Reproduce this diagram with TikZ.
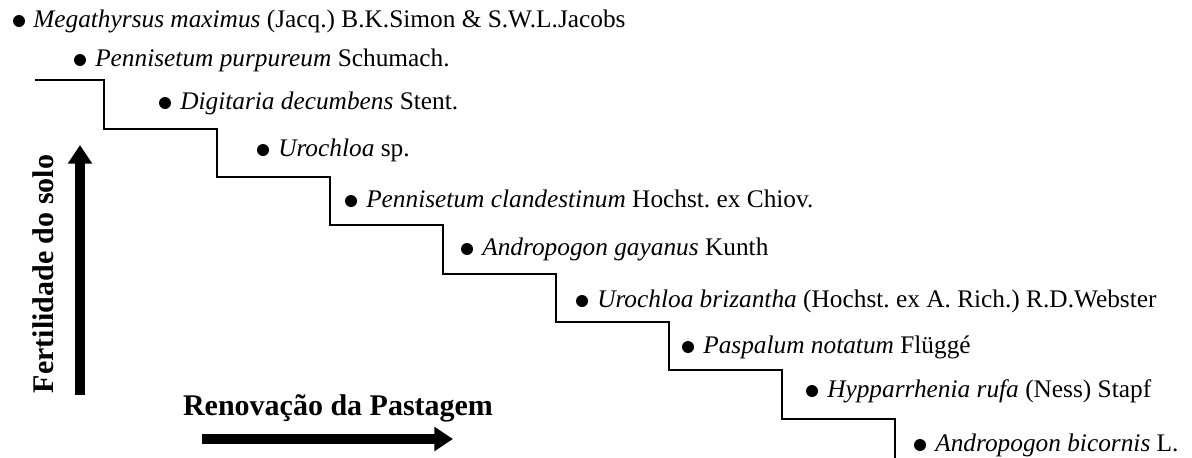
\documentclass[tikz,border=0pt]{standalone}
\usepackage{fontspec}
\setmainfont{Liberation Serif}
\usetikzlibrary{arrows.meta}
\frenchspacing
\begin{document}
\begin{tikzpicture}[x=0.75pt,y=-0.75pt,
  item/.style={anchor=base west,inner sep=0pt,font=\fontsize{19pt}{22pt}\selectfont},
  dot/.style={circle,fill=black,minimum size=9pt,inner sep=0pt},
  axislabel/.style={inner sep=0pt,font=\fontsize{22.5pt}{26pt}\selectfont\bfseries},
  bigarrow/.style={line width=8pt,-{Triangle[length=14pt,width=17.5pt]}},
  stairs/.style={line width=1.2pt,line join=miter}]
\useasboundingbox (0,0) rectangle (1192,457);
% staircase
\draw[stairs] (35,80) -- (104,80) -- (104,129) -- (217,129) -- (217,177) -- (330,177)
  -- (330,225) -- (443,225) -- (443,274) -- (556,274) -- (556,322) -- (669,322)
  -- (669,370) -- (782,370) -- (782,419) -- (895,419) -- (895,460);
% bullets
\node[dot] (b1) at (19,21) {};
\node[dot] (b2) at (80,60) {};
\node[dot] (b3) at (165,103) {};
\node[dot] (b4) at (263,150) {};
\node[dot] (b5) at (351,201) {};
\node[dot] (b6) at (467,249) {};
\node[dot] (b7) at (582,301) {};
\node[dot] (b8) at (688,347) {};
\node[dot] (b9) at (812,391) {};
\node[dot] (b10) at (920,445) {};
% labels
\node[item] (t1) at (33,27.5) {\textit{Megathyrsus maximus} (Jacq.) B.K.Simon \& S.W.L.Jacobs};
\node[item] (t2) at (95,66.5) {\textit{Pennisetum purpureum} Schumach.};
\node[item] (t3) at (180,109.5) {\textit{Digitaria decumbens} Stent.};
\node[item] (t4) at (278,156.5) {\textit{Urochloa} sp.};
\node[item] (t5) at (366,207.5) {\textit{Pennisetum clandestinum} Hochst. ex Chiov.};
\node[item] (t6) at (482,255.5) {\textit{Andropogon gayanus} Kunth};
\node[item] (t7) at (597,307.5) {\textit{Urochloa brizantha} (Hochst. ex A. Rich.) R.D.Webster};
\node[item] (t8) at (703,353.5) {\textit{Paspalum notatum} Flüggé};
\node[item] (t9) at (827,397.5) {\textit{Hypparrhenia rufa} (Ness) Stapf};
\node[item] (t10) at (935,451.5) {\textit{Andropogon bicornis} L.};
% axes
\coordinate (vs) at (80,395);
\coordinate (ve) at (80,145);
\draw[bigarrow] (vs) -- (ve);
\coordinate (hs) at (202,439);
\coordinate (he) at (453,439);
\draw[bigarrow] (hs) -- (he);
\node[axislabel,rotate=90,anchor=base] (fy) at (53,274) {Fertilidade do solo};
\node[axislabel,anchor=base] (fx) at (338,415) {Renovação da Pastagem};
\end{tikzpicture}
\end{document}
